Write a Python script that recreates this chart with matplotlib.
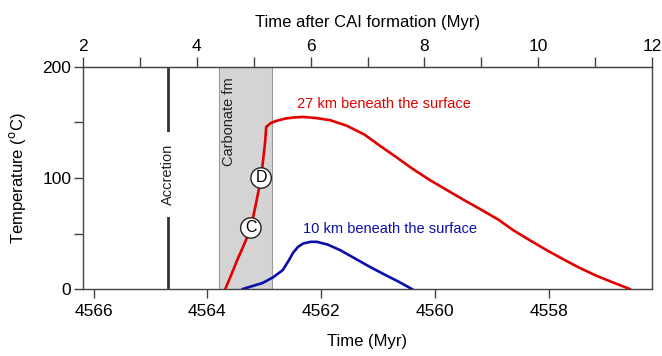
import numpy as np
import matplotlib as mpl
import matplotlib.pyplot as plt

mpl.rcParams['font.family'] = ['Liberation Sans', 'DejaVu Sans']

# time after CAI formation (Myr) and temperature (C)
t_27km = [4.50, 4.60, 4.71, 4.83, 4.95, 5.04, 5.13, 5.20, 5.22, 5.30, 5.40,
          5.55, 5.70, 5.87, 6.10, 6.35, 6.64, 6.95, 7.22, 7.50, 7.80, 8.10,
          8.40, 8.70, 8.98, 9.30, 9.56, 9.85, 10.15, 10.45, 10.73, 11.02,
          11.31, 11.61]
T_27km = [0, 12, 26, 40, 55, 77, 100, 132, 146, 149.5, 151.5,
          153.5, 154.5, 155, 154, 152, 147, 139, 129, 119, 108, 98,
          89, 80, 72, 62.5, 53, 44, 35, 26.5, 19, 12,
          6, 0]

t_10km = [4.81, 5.00, 5.16, 5.34, 5.51, 5.62, 5.69, 5.78, 5.87, 6.00, 6.11,
          6.30, 6.52, 6.78, 7.04, 7.30, 7.55, 7.78]
T_10km = [0, 3, 5.5, 10.5, 17, 26, 32.5, 38, 41, 42.5, 42.5,
          40, 35, 27.5, 20, 13, 6.5, 0]

accretion_t = 3.5
carbonate_t = (4.39, 5.32)
points_CD = {'C': (4.95, 55), 'D': (5.13, 100)}

cai_age = 4568.185
ages = [4566, 4564, 4562, 4560, 4558]
top_ticks = list(range(2, 13))

fig = plt.figure(figsize=(6.62, 3.56), dpi=100)
ax = fig.add_axes([83/662, 1-289/356, (652-83)/662, (289-67)/356])

spine_col = '#444444'
for s in ax.spines.values():
	s.set_color(spine_col)
	s.set_linewidth(1.0)

# carbonate formation window
ax.axvspan(carbonate_t[0], carbonate_t[1], facecolor='#d4d4d4', edgecolor='#9a9a9a', linewidth=0.8, zorder=1)
ax.text(4.57, 151, 'Carbonate fm', rotation=90, ha='center', va='center', fontsize=10.5, color='#222222', zorder=2)

# accretion
ax.axvline(accretion_t, color='#333333', linewidth=2.0, zorder=2)
ax.text(accretion_t, 103, 'Accretion', rotation=90, ha='center', va='center', fontsize=10.5, color='#222222', zorder=3,
	bbox=dict(boxstyle='square,pad=0.8', facecolor='white', edgecolor='none'))

ax.plot(t_27km, T_27km, color='#e30000', linewidth=1.9, zorder=4, solid_joinstyle='round')
ax.plot(t_10km, T_10km, color='#0a0fa8', linewidth=1.9, zorder=4, solid_joinstyle='round')

ax.text(5.76, 167, '27 km beneath the surface', color='#e30000', fontsize=10.5, ha='left', va='center')
ax.text(5.87, 54, '10 km beneath the surface', color='#0a0fa8', fontsize=10.5, ha='left', va='center')

for lab, (x, y) in points_CD.items():
	ax.text(x, y, lab, ha='center', va='center', fontsize=11.5, zorder=5,
		bbox=dict(boxstyle='circle,pad=0.17', facecolor='white', edgecolor='#222222', linewidth=1.0))

ax.set_xlim(2, 12)
ax.set_ylim(0, 200)

# bottom axis: absolute age
ax.set_xticks([cai_age - a for a in ages])
ax.set_xticklabels([str(a) for a in ages])
ax.tick_params(axis='x', direction='out', length=6.5, width=1.0, color=spine_col, labelsize=12.5, pad=4)
ax.set_xlabel('Time (Myr)', fontsize=12, labelpad=11)

# left axis
ax.set_yticks([0, 100, 200])
ax.set_yticks([50, 150], minor=True)
ax.tick_params(axis='y', which='both', direction='out', length=6.5, width=1.0, color=spine_col, labelsize=12.5, pad=2)
ax.set_ylabel('Temperature ($^{\\rm o}$C)', fontsize=12, labelpad=10)

# top axis: time after CAI
top = ax.secondary_xaxis('top')
top.set_xticks([t for t in top_ticks if t % 2 == 0])
top.set_xticks([t for t in top_ticks if t % 2 == 1], minor=True)
top.tick_params(axis='x', which='both', direction='out', length=7, width=1.0, color=spine_col, labelsize=12.5, pad=2)
top.spines['top'].set_color(spine_col)
top.set_xlabel('Time after CAI formation (Myr)', fontsize=12, labelpad=9)

fig.savefig('out.png', dpi=100)
